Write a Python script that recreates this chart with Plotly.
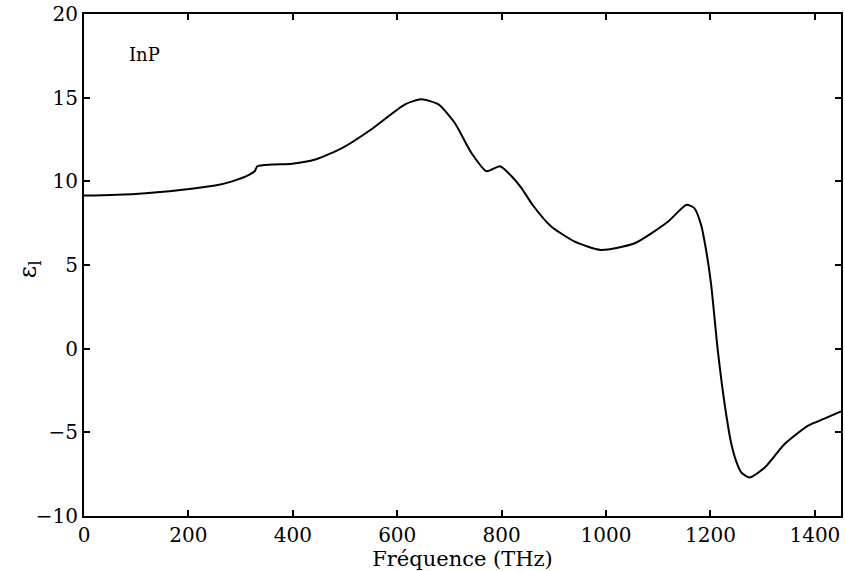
import plotly.graph_objects as go

freq = [0, 98, 189, 251, 284, 317, 327, 332, 360, 399, 443, 495, 550, 615, 646, 679, 710, 742,
        771, 797, 819, 838, 859, 895, 940, 990, 1055, 1119, 1154, 1169, 1182, 1191, 1201, 1214, 1228,
        1240, 1250, 1259, 1275, 1304, 1342, 1387, 1417, 1450]
eps1 = [9.15, 9.25, 9.5, 9.75, 10.0, 10.4, 10.6, 10.9, 11.0, 11.05, 11.3, 12.0, 13.1, 14.6, 14.9, 14.6,
        13.5, 11.7, 10.6, 10.9, 10.3, 9.6, 8.6, 7.3, 6.4, 5.9, 6.3, 7.6, 8.6, 8.4, 7.4, 6.0, 3.9, -0.1, -3.5,
        -5.7, -6.8, -7.4, -7.7, -7.1, -5.7, -4.6, -4.2, -3.75]

xticks = [0, 200, 400, 600, 800, 1000, 1200, 1400]
yticks = [-10, -5, 0, 5, 10, 15, 20]

FONT = "DejaVu Serif"

fig = go.Figure()
fig.add_trace(go.Scatter(x=freq, y=eps1, mode="lines",
                         line=dict(color="black", width=2, shape="spline", smoothing=0.6),
                         showlegend=False))

axis_common = dict(showline=True, linecolor="black", linewidth=2, mirror="ticks",
                   ticks="inside", ticklen=6, tickwidth=2, tickcolor="black",
                   showgrid=False, zeroline=False,
                   tickfont=dict(family=FONT, size=20, color="black"))

fig.update_xaxes(range=[0, 1450], tickvals=xticks, ticktext=[str(v) for v in xticks],
                 ticklabelstandoff=0,
                 title=dict(text="Fréquence (THz)", standoff=0,
                            font=dict(family=FONT, size=21, color="black")),
                 **axis_common)
fig.update_yaxes(range=[-10, 20], tickvals=yticks,
                 ticktext=["\u221210", "\u22125", "0", "5", "10", "15", "20"],
                 **axis_common)

fig.add_annotation(xref="paper", yref="paper", x=-(84 - 30) / 759, y=(516 - 268) / 504,
                   text="ε<sub>l</sub>", textangle=-90, showarrow=False,
                   xanchor="center", yanchor="middle",
                   font=dict(family=FONT, size=24, color="black"))

fig.add_annotation(x=83, y=17.6, text="InP", showarrow=False, xanchor="left",
                   font=dict(family=FONT, size=18, color="black"))

fig.update_layout(width=845, height=571, margin=dict(l=84, r=2, t=12, b=55),
                  plot_bgcolor="white", paper_bgcolor="white")

fig.write_html("out.html", config={"displayModeBar": False},
               post_script="document.body.style.margin='0';document.body.style.padding='0';")
